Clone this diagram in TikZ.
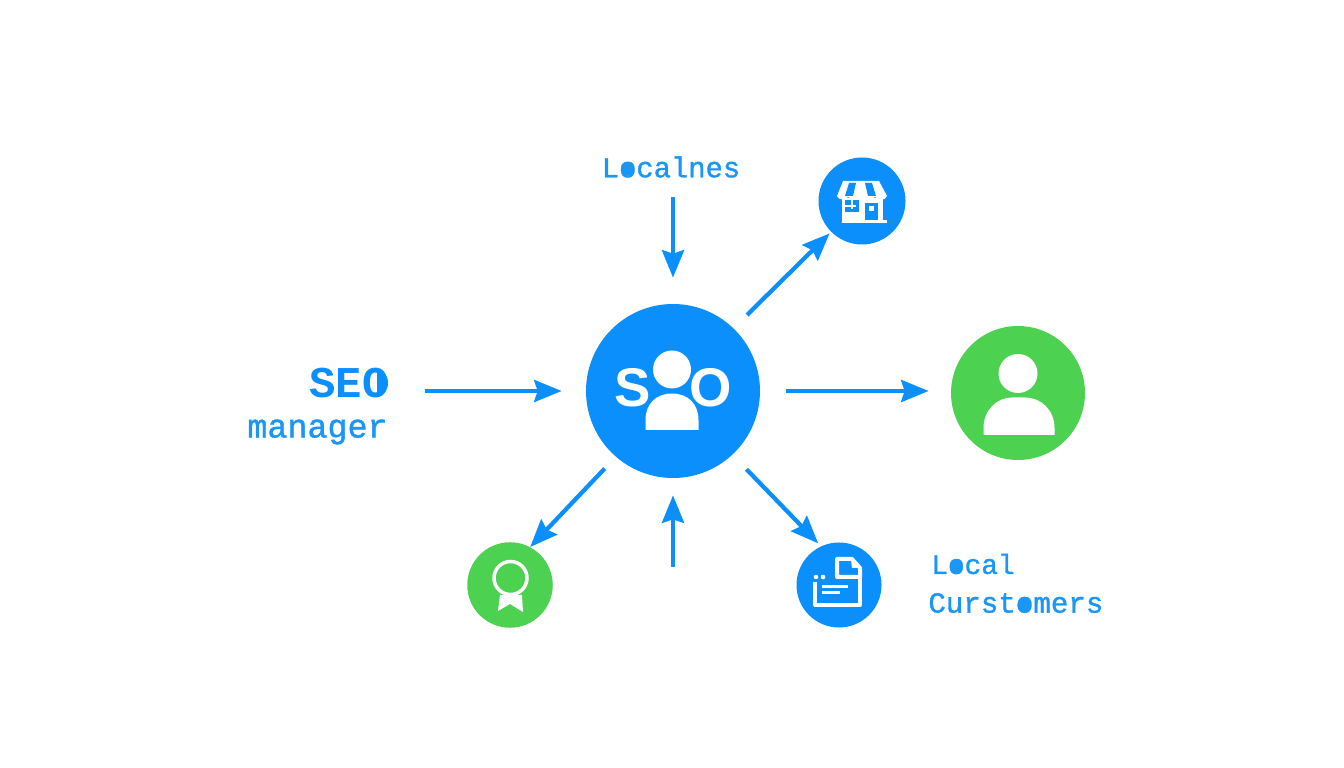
\documentclass[tikz,border=0pt]{standalone}
\usepackage{fontspec}
\setsansfont{Liberation Sans}
\newfontfamily\lblfont[FakeBold=1.2]{Liberation Mono}
\newfontfamily\lblbold{Liberation Mono Bold}
\usetikzlibrary{arrows.meta, positioning}
\definecolor{seoblue}{HTML}{0A8FFD}
\definecolor{seotext}{HTML}{1A96F5}
\definecolor{seogreen}{HTML}{4CD151}
\tikzset{
    bluedisc/.style={circle, fill=seoblue, inner sep=0pt},
    greendisc/.style={circle, fill=seogreen, inner sep=0pt},
    lbl/.style={text=seotext, font=\lblfont\fontsize{16.4}{20}\selectfont, inner sep=0pt},
    flow/.style={draw=seoblue, line width=0.85mm, -{Stealth[length=5.5mm, width=4.4mm, inset=0.7mm]}},
    hubletter/.style={text=white, font=\sffamily\bfseries\fontsize{31}{31}\selectfont, inner sep=0pt}
}

\begin{document}
\begin{tikzpicture}[x=0.2mm, y=-0.2mm]
    \useasboundingbox (0,0) rectangle (1344,768);

    % discs
    \node[bluedisc, minimum size=34.8mm] (hub) at (673,391) {};
    \node[greendisc, minimum size=26.8mm] (user) at (1018,393) {};
    \node[bluedisc, minimum size=17.4mm] (shop) at (862,201) {};
    \node[greendisc, minimum size=17.1mm] (badge) at (510,585) {};
    \node[bluedisc, minimum size=17mm] (doc) at (839,585) {};

    % labels
    \node[lbl] (localnes) at (671,167) {Localnes};
    \node[lbl, text=seoblue, font=\lblbold\fontsize{25}{25}\selectfont, anchor=east] (seo) at (389,383) {SEO};
    \node[lbl, font=\lblfont\fontsize{19}{20}\selectfont, anchor=east] (manager) at (388,432) {manager};
    \node[lbl, font=\lblfont\fontsize{15.8}{20}\selectfont, anchor=west] (local) at (931,564) {Local};
    \node[lbl, font=\lblfont\fontsize{16.6}{20}\selectfont, anchor=west] (customers) at (928,603) {Curstomers};
    \coordinate (upstart) at (673,567);

    % filled letters
    \fill[seotext] (628,169.5) circle (6);
    \fill[seotext] (956,566.5) circle (6);
    \fill[seotext] (1024,605.5) circle (6.5);
    \fill[seoblue] (377,397) arc (90:-90:11 and 14) -- cycle;

    % arrows
    \draw[flow, shorten >=5.2mm] (hub |- localnes.south) ++(0,19) -- (hub.north);
    \draw[flow, shorten <=7.4mm, shorten >=4.8mm] (manager.east |- hub.west) -- (hub.west);
    \draw[flow, shorten >=3.4mm] (upstart) -- (hub.south);
    \draw[flow, shorten >=0.4mm] (hub) ++(74,-76) -- (shop.225);
    \draw[flow, shorten <=5.2mm, shorten >=4.4mm] (hub.east) -- (user.west |- hub.east);
    \draw[flow, shorten <=3.2mm] (hub.-131) -- (badge.62);
    \draw[flow, shorten <=4mm, shorten >=0.8mm] (hub.-47) -- (doc.115);

    % hub icon
    \node[hubletter] (hubs) at (633,388) {S};
    \node[hubletter] (hubo) at (711,388) {O};
    \fill[white] (672,369.5) circle (19);
    \fill[white] (645.5,430) -- (645.5,420) .. controls (645.5,404) and (656,393.5) .. (672,393.5)
        .. controls (688,393.5) and (698.5,404) .. (698.5,420) -- (698.5,430) -- cycle;

    % user icon
    \fill[white] (1018,373.5) circle (19.5);
    \fill[white] (983.5,435) -- (983.5,428) .. controls (983.5,410) and (997,397.5) .. (1012,397.5)
        -- (1025,397.5) .. controls (1041,397.5) and (1054.5,410) .. (1054.5,428) -- (1054.5,435) -- cycle;

    % shop icon
    \fill[white] (843,181) -- (879,181) -- (887,196) .. controls (885,201) and (878,201) .. (875,197)
        .. controls (870,201) and (852,201) .. (848,197) .. controls (845,201) and (838,200) .. (837,196) -- cycle;
    \fill[seoblue] (849,183) -- (856,183) -- (853,196) -- (845,196) -- cycle;
    \fill[seoblue] (865,183) -- (872,183) -- (876,196) -- (868,196) -- cycle;
    \fill[white] (842,198) rectangle (883,220);
    \fill[white] (842,220) rectangle (887,223);
    \fill[seoblue] (845,200) rectangle (859,212);
    \fill[white] (851,200) rectangle (853,209);
    \fill[white] (845,205) rectangle (856,207);
    \fill[seoblue] (865,203) rectangle (878,220);
    \fill[white] (869,206) rectangle (874,211);

    % document icon
    \draw[white, line width=0.8mm, line join=round] (815,582) -- (815,605) -- (860,605) -- (860,570);
    \draw[white, line width=0.8mm, line join=round] (837,559) -- (852,559) -- (860,568) -- (860,577) -- (837,577) -- cycle;
    \fill[white] (851,560) -- (852,568) -- (859,568) -- cycle;
    \draw[white, line width=0.6mm] (822,587) -- (848,587);
    \draw[white, line width=0.6mm] (822,593) -- (840,593);
    \fill[white] (816,577) circle (2.3);
    \fill[white] (823,577) circle (2.3);

    % badge icon
    \fill[white] (500,595) -- (498,611) -- (510,604) -- (523,612) -- (522,595) -- cycle;
    \draw[white, fill=seogreen, line width=0.7mm] (510.5,578) circle (16.5);
\end{tikzpicture}
\end{document}
